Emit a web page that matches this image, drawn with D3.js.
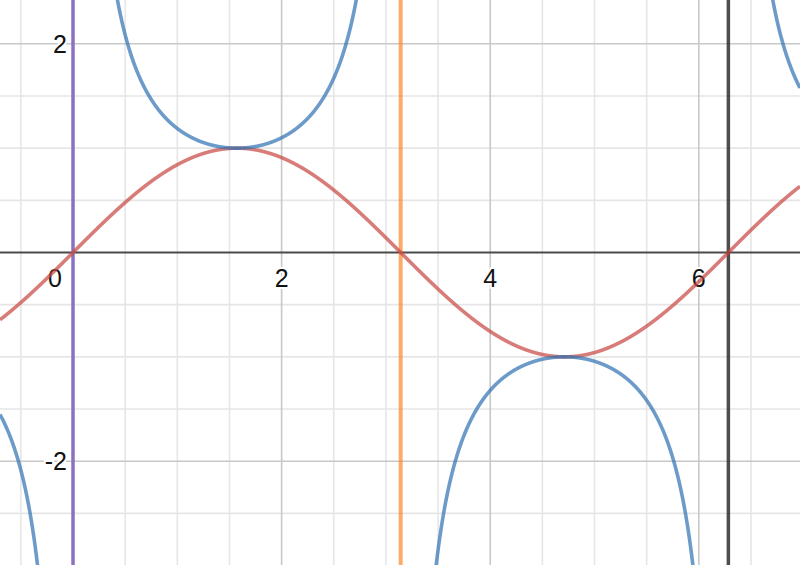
<!DOCTYPE html>
<html>
<head>
<meta charset="utf-8">
<script src="https://cdn.jsdelivr.net/npm/d3@7"></script>
<style>
  html, body { margin: 0; padding: 0; background: #fff; }
  svg { display: block; }
  text { font-family: "Liberation Sans", Arial, sans-serif; }
</style>
</head>
<body>
<svg id="chart" width="800" height="565"></svg>
<script>
// ---- data ----
const xDomain = [-0.70, 6.97];
const yDomain = [2.42, -2.995];
const xMajorTicks = [0, 2, 4, 6];
const yMajorTicks = [-2, 2];
const minorStep = 0.5;
const curveNames = ["sin", "csc"];
const curveColors = ["#c74440", "#2d70b3"];
const verticalLineX = [0, Math.PI, 2 * Math.PI];
const verticalLineColors = ["#8b72c0", "#fa7e19", "#222222"];

const fns = {
  sin: x => Math.sin(x),
  csc: x => 1 / Math.sin(x)
};

const W = 800, H = 565;
const svg = d3.select("#chart");
const x = d3.scaleLinear().domain(xDomain).range([0, W]);
const y = d3.scaleLinear().domain(yDomain).range([0, H]);

// grid
const minorX = d3.range(Math.ceil(xDomain[0] / minorStep) * minorStep, xDomain[1], minorStep);
const minorY = d3.range(Math.ceil(yDomain[1] / minorStep) * minorStep, yDomain[0], minorStep);
const isMajor = v => Math.abs(v / 2 - Math.round(v / 2)) < 1e-9;

const g = svg.append("g");
g.selectAll("line.vx").data(minorX.filter(v => !isMajor(v))).join("line")
  .attr("x1", d => x(d)).attr("x2", d => x(d)).attr("y1", 0).attr("y2", H)
  .attr("stroke", "#e6e6e6").attr("stroke-width", 1.6);
g.selectAll("line.hy").data(minorY.filter(v => !isMajor(v))).join("line")
  .attr("y1", d => y(d)).attr("y2", d => y(d)).attr("x1", 0).attr("x2", W)
  .attr("stroke", "#e6e6e6").attr("stroke-width", 1.6);
g.selectAll("line.mx").data(minorX.filter(v => isMajor(v) && Math.abs(v) > 1e-9)).join("line")
  .attr("x1", d => x(d)).attr("x2", d => x(d)).attr("y1", 0).attr("y2", H)
  .attr("stroke", "#c8c8c8").attr("stroke-width", 1.6);
g.selectAll("line.my").data(minorY.filter(v => isMajor(v) && Math.abs(v) > 1e-9)).join("line")
  .attr("y1", d => y(d)).attr("y2", d => y(d)).attr("x1", 0).attr("x2", W)
  .attr("stroke", "#c8c8c8").attr("stroke-width", 1.6);

// axes
svg.append("line").attr("x1", 0).attr("x2", W).attr("y1", y(0)).attr("y2", y(0))
  .attr("stroke", "#4a4a4a").attr("stroke-width", 2);
svg.append("line").attr("x1", x(0)).attr("x2", x(0)).attr("y1", 0).attr("y2", H)
  .attr("stroke", "#4a4a4a").attr("stroke-width", 2);

// tick labels
const lab = svg.append("g").attr("font-size", 25).attr("fill", "#111");
lab.selectAll("text.xl").data(xMajorTicks).join("text")
  .attr("x", d => d === 0 ? x(0) - 18 : x(d))
  .attr("y", y(0) + 34)
  .attr("text-anchor", "middle")
  .attr("stroke", "#fff").attr("stroke-width", 4).attr("paint-order", "stroke")
  .text(d => d);
lab.selectAll("text.yl").data(yMajorTicks).join("text")
  .attr("x", x(0) - 6)
  .attr("y", d => y(d) + 9)
  .attr("text-anchor", "end")
  .attr("stroke", "#fff").attr("stroke-width", 4).attr("paint-order", "stroke")
  .text(d => d < 0 ? "-" + Math.abs(d) : d);

// vertical lines
svg.selectAll("line.vl").data(verticalLineX).join("line")
  .attr("x1", d => x(d)).attr("x2", d => x(d)).attr("y1", 0).attr("y2", H)
  .attr("stroke", (d, i) => verticalLineColors[i])
  .attr("stroke-opacity", (d, i) => i === 2 ? 0.8 : (i === 0 ? 1 : 0.65))
  .attr("stroke-width", (d, i) => i === 1 ? 4 : 3.5);

// curves
const step = 0.002;
const xs = d3.range(xDomain[0], xDomain[1] + step, step);
const line = d3.line()
  .defined(d => isFinite(d[1]) && Math.abs(d[1]) < 12)
  .x(d => x(d[0])).y(d => y(d[1]));

curveNames.forEach((name, i) => {
  const pts = xs.map(v => [v, fns[name](v)]);
  svg.append("path")
    .attr("d", line(pts))
    .attr("fill", "none")
    .attr("stroke", curveColors[i])
    .attr("stroke-opacity", 0.7)
    .attr("stroke-width", 3.6)
    .attr("stroke-linejoin", "round");
});
</script>
</body>
</html>
